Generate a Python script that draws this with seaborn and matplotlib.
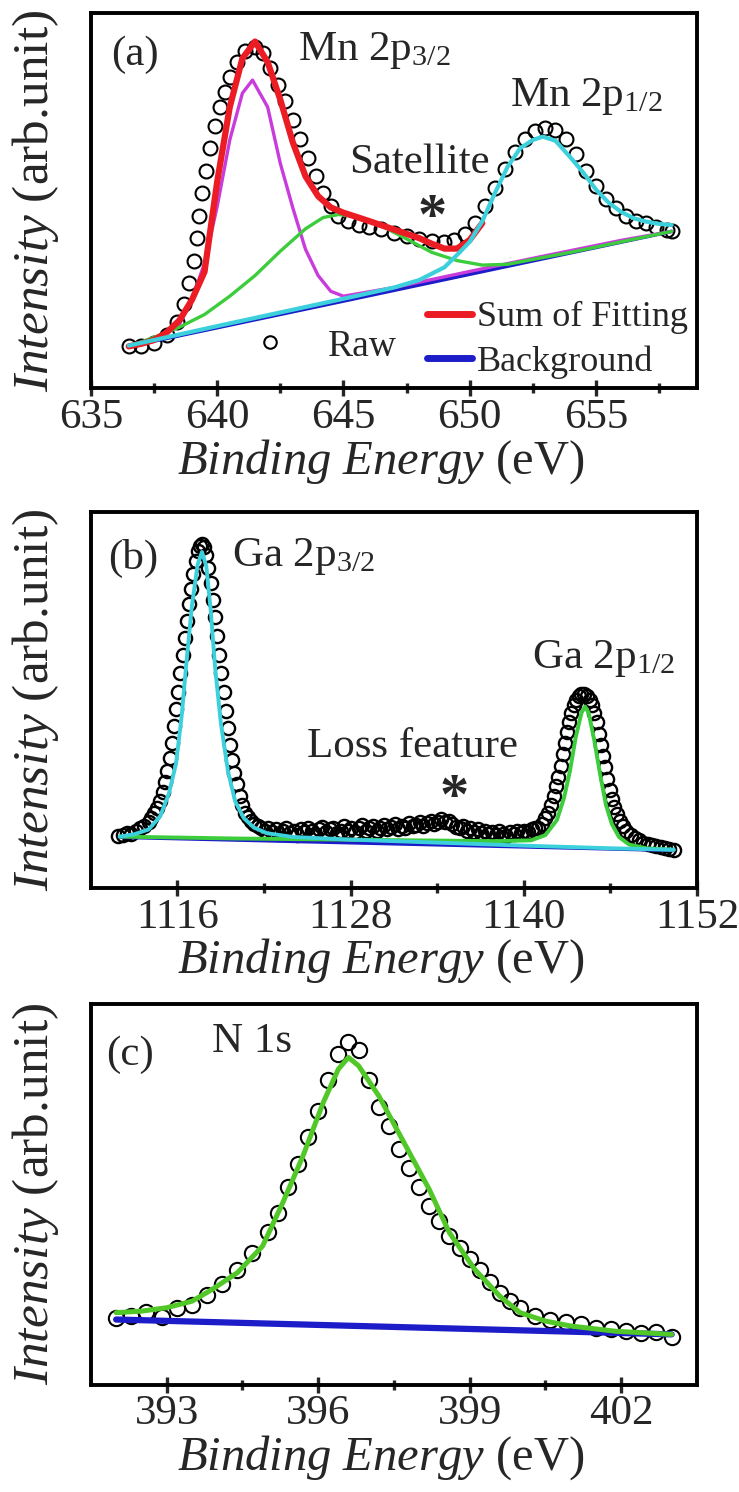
import numpy as np
import pandas as pd
import matplotlib
matplotlib.use("Agg")
import matplotlib.pyplot as plt
from matplotlib.lines import Line2D
import seaborn as sns

# ---------------- panel (a) : Mn 2p ----------------
a_raw_e = [636.5, 637.0, 637.5, 638.0, 638.4, 638.7, 638.9, 639.1, 639.2, 639.3, 639.4, 639.55,
           639.7, 639.9, 640.1, 640.3, 640.5, 640.8, 641.1, 641.5, 641.8, 642.1, 642.4, 642.7,
           643.0, 643.3, 643.6, 643.9, 644.2, 644.5, 644.8, 645.2, 645.6, 646.0, 646.5, 647.0,
           647.5, 648.0, 648.5, 649.0, 649.4, 649.8, 650.2, 650.6, 651.0, 651.4, 651.8, 652.2,
           652.6, 653.0, 653.4, 653.8, 654.2, 654.6, 655.0, 655.4, 655.8, 656.2, 656.6, 657.0,
           657.4, 657.8, 658.0]
a_raw_i = [0.111, 0.113, 0.12, 0.14, 0.175, 0.225, 0.28, 0.34, 0.40, 0.46, 0.52, 0.58,
           0.64, 0.70, 0.75, 0.79, 0.83, 0.87, 0.90, 0.91, 0.895, 0.855, 0.81, 0.765,
           0.715, 0.665, 0.615, 0.565, 0.52, 0.485, 0.46, 0.445, 0.435, 0.43, 0.425, 0.415,
           0.405, 0.398, 0.392, 0.39, 0.395, 0.41, 0.44, 0.485, 0.535, 0.585, 0.63, 0.665,
           0.685, 0.695, 0.69, 0.665, 0.625, 0.58, 0.54, 0.505, 0.48, 0.46, 0.447, 0.44,
           0.43, 0.422, 0.418]

a_sum_e = [636.5, 637.0, 637.5, 638.0, 638.5, 639.0, 639.5, 640.0, 640.5, 641.0, 641.5, 642.0,
           642.5, 643.0, 643.5, 644.0, 644.5, 645.0, 646.0, 647.0, 648.0, 648.5, 649.0, 649.5,
           650.0, 650.5]
a_sum_i = [0.111, 0.118, 0.128, 0.148, 0.18, 0.235, 0.31, 0.55, 0.75, 0.88, 0.925, 0.87,
           0.77, 0.655, 0.565, 0.512, 0.482, 0.468, 0.446, 0.423, 0.40, 0.385, 0.372, 0.372,
           0.395, 0.44]

a_p32_e = [636.5, 637.5, 638.5, 639.0, 639.5, 640.0, 640.5, 641.0, 641.4, 642.0, 642.5, 643.0,
           643.5, 644.0, 644.5, 645.0, 647.0, 650.0, 653.0, 656.0, 658.0]
a_p32_i = [0.111, 0.124, 0.169, 0.236, 0.333, 0.484, 0.662, 0.787, 0.822, 0.75, 0.60, 0.48,
           0.37, 0.30, 0.258, 0.245, 0.268, 0.311, 0.353, 0.394, 0.418]

a_sat_e = [636.5, 637.5, 638.5, 639.5, 640.5, 641.5, 642.5, 643.5, 644.2, 644.8, 645.5, 646.5,
           647.5, 648.5, 649.5, 650.5, 651.5, 652.5, 654.0, 656.0, 658.0]
a_sat_i = [0.111, 0.135, 0.162, 0.196, 0.245, 0.30, 0.365, 0.425, 0.455, 0.463, 0.458, 0.433,
           0.398, 0.362, 0.34, 0.328, 0.33, 0.343, 0.362, 0.39, 0.418]

a_p12_e = [636.5, 640.0, 645.0, 647.0, 648.0, 649.0, 649.5, 650.0, 650.5, 651.0, 651.5, 652.0,
           652.5, 652.9, 653.4, 654.0, 654.5, 655.0, 655.5, 656.0, 656.5, 657.0, 657.5, 658.0]
a_p12_i = [0.113, 0.165, 0.238, 0.268, 0.288, 0.322, 0.355, 0.39, 0.445, 0.52, 0.59, 0.64,
           0.662, 0.671, 0.66, 0.615, 0.575, 0.53, 0.495, 0.47, 0.453, 0.444, 0.438, 0.435]

a_bg_e = [636.5, 645.0, 658.0]
a_bg_i = [0.111, 0.232, 0.418]

# ---------------- panel (b) : Ga 2p ----------------
# raw points, read in three stretches: 2p3/2 peak, loss region, 2p1/2 peak
b_raw_e1 = [1111.9, 1112.2, 1112.5, 1112.8, 1113.1, 1113.4, 1113.7, 1114.0, 1114.2, 1114.4,
            1114.6, 1114.8, 1115.0, 1115.15, 1115.3, 1115.45, 1115.6, 1115.75, 1115.9, 1116.05,
            1116.2, 1116.35, 1116.5, 1116.65, 1116.8, 1116.95, 1117.1, 1117.25, 1117.4, 1117.55,
            1117.7, 1117.85, 1118.0, 1118.15, 1118.3, 1118.45, 1118.6, 1118.75, 1118.9, 1119.05,
            1119.2, 1119.35, 1119.5, 1119.65, 1119.8, 1119.95, 1120.1, 1120.3, 1120.5, 1120.7,
            1120.9, 1121.1, 1121.3]
b_raw_i1 = [0.137, 0.14, 0.146, 0.143, 0.15, 0.158, 0.165, 0.175, 0.185, 0.198,
            0.213, 0.232, 0.255, 0.28, 0.31, 0.345, 0.385, 0.43, 0.475, 0.52,
            0.57, 0.62, 0.665, 0.71, 0.755, 0.795, 0.835, 0.87, 0.895, 0.91,
            0.915, 0.905, 0.885, 0.85, 0.81, 0.765, 0.72, 0.67, 0.62, 0.57,
            0.52, 0.47, 0.425, 0.38, 0.34, 0.305, 0.275, 0.245, 0.22, 0.2,
            0.188, 0.178, 0.17]
b_raw_e2 = [1121.55, 1121.8, 1122.05, 1122.3, 1122.55, 1122.8, 1123.05, 1123.3, 1123.55, 1123.8,
            1124.05, 1124.3, 1124.55, 1124.8, 1125.05, 1125.3, 1125.55, 1125.8, 1126.05, 1126.3,
            1126.55, 1126.8, 1127.05, 1127.3, 1127.55, 1127.8, 1128.05, 1128.3, 1128.55, 1128.8,
            1129.05, 1129.3, 1129.55, 1129.8, 1130.05, 1130.3, 1130.55, 1130.8, 1131.05, 1131.3,
            1131.55, 1131.8, 1132.05, 1132.3, 1132.55, 1132.8, 1133.05, 1133.3, 1133.55, 1133.8,
            1134.05, 1134.3, 1134.55, 1134.8, 1135.05, 1135.3, 1135.55, 1135.8, 1136.05, 1136.3,
            1136.55, 1136.8, 1137.05, 1137.3, 1137.55, 1137.8, 1138.05, 1138.3, 1138.55, 1138.8,
            1139.05, 1139.3, 1139.55, 1139.8, 1140.05, 1140.3, 1140.55, 1140.8]
b_raw_i2 = [0.165, 0.158, 0.152, 0.16, 0.148, 0.155, 0.142, 0.15, 0.158, 0.145,
            0.152, 0.14, 0.155, 0.148, 0.16, 0.15, 0.143, 0.155, 0.162, 0.148,
            0.155, 0.16, 0.145, 0.152, 0.165, 0.15, 0.158, 0.147, 0.16, 0.166,
            0.152, 0.158, 0.163, 0.15, 0.16, 0.168, 0.155, 0.162, 0.17, 0.157,
            0.165, 0.16, 0.172, 0.163, 0.168, 0.175, 0.165, 0.172, 0.178, 0.17,
            0.176, 0.182, 0.175, 0.178, 0.17, 0.162, 0.158, 0.165, 0.152, 0.158,
            0.148, 0.155, 0.145, 0.152, 0.142, 0.148, 0.14, 0.15, 0.143, 0.138,
            0.147, 0.142, 0.15, 0.145, 0.152, 0.148, 0.156, 0.16]
b_raw_e3 = [1141.0, 1141.25, 1141.5, 1141.7, 1141.9, 1142.1, 1142.25, 1142.4, 1142.55, 1142.7,
            1142.85, 1143.0, 1143.15, 1143.3, 1143.45, 1143.6, 1143.8, 1144.0, 1144.2, 1144.4,
            1144.6, 1144.75, 1144.9, 1145.05, 1145.2, 1145.35, 1145.5, 1145.65, 1145.8, 1145.95,
            1146.1, 1146.25, 1146.45, 1146.65, 1146.85, 1147.1, 1147.4, 1147.7, 1148.0, 1148.3,
            1148.6, 1148.9, 1149.2, 1149.5, 1149.8, 1150.1, 1150.4]
b_raw_i3 = [0.16, 0.17, 0.185, 0.2, 0.22, 0.245, 0.27, 0.295, 0.325, 0.355,
            0.385, 0.415, 0.44, 0.465, 0.485, 0.5, 0.51, 0.515, 0.515, 0.51,
            0.5, 0.485, 0.465, 0.44, 0.41, 0.38, 0.35, 0.32, 0.29, 0.26,
            0.235, 0.215, 0.195, 0.178, 0.165, 0.152, 0.14, 0.132, 0.126, 0.12,
            0.117, 0.113, 0.11, 0.108, 0.106, 0.103, 0.101]

b_p32_e = [1112.0, 1113.0, 1114.0, 1114.8, 1115.4, 1115.9, 1116.3, 1116.6, 1117.0, 1117.4,
           1117.7, 1118.0, 1118.3, 1118.6, 1119.0, 1119.5, 1120.0, 1120.6, 1121.3, 1122.2,
           1124.0, 1128.0, 1134.0, 1140.0, 1146.0, 1150.4]
b_p32_i = [0.136, 0.142, 0.155, 0.19, 0.25, 0.33, 0.46, 0.59, 0.75, 0.86,
           0.893, 0.855, 0.74, 0.59, 0.44, 0.31, 0.23, 0.185, 0.16, 0.145,
           0.135, 0.128, 0.12, 0.112, 0.105, 0.101]

b_p12_e = [1112.0, 1120.0, 1130.0, 1138.0, 1140.5, 1141.5, 1142.3, 1142.8, 1143.2, 1143.6,
           1144.0, 1144.25, 1144.5, 1144.9, 1145.3, 1145.7, 1146.1, 1146.6, 1147.3, 1148.5,
           1150.4]
b_p12_i = [0.136, 0.131, 0.127, 0.124, 0.126, 0.14, 0.18, 0.24, 0.31, 0.40,
           0.465, 0.482, 0.465, 0.39, 0.30, 0.22, 0.17, 0.135, 0.115, 0.105,
           0.101]

b_bg_e = [1112.0, 1150.4]
b_bg_i = [0.134, 0.099]

# ---------------- panel (c) : N 1s ----------------
c_raw_e = [392.0, 392.3, 392.6, 392.9, 393.2, 393.5, 393.8, 394.1, 394.4, 394.7, 395.0, 395.2,
           395.4, 395.6, 395.8, 396.0, 396.2, 396.4, 396.6, 396.8, 397.0, 397.2, 397.4, 397.6,
           397.8, 398.0, 398.2, 398.4, 398.6, 398.8, 399.0, 399.2, 399.4, 399.6, 399.8, 400.0,
           400.3, 400.6, 400.9, 401.2, 401.5, 401.8, 402.1, 402.4, 402.7, 403.0]
c_raw_i = [0.175, 0.18, 0.19, 0.178, 0.2, 0.21, 0.235, 0.265, 0.30, 0.345, 0.40, 0.45,
           0.52, 0.58, 0.65, 0.72, 0.80, 0.87, 0.90, 0.88, 0.80, 0.73, 0.68, 0.62,
           0.57, 0.52, 0.47, 0.43, 0.39, 0.36, 0.33, 0.30, 0.27, 0.24, 0.22, 0.20,
           0.18, 0.17, 0.165, 0.16, 0.15, 0.145, 0.14, 0.135, 0.138, 0.125]

c_fit_e = [392.0, 392.5, 393.0, 393.5, 393.9, 394.4, 394.9, 395.3, 395.7, 396.1, 396.4, 396.6,
           396.8, 397.2, 397.7, 398.2, 398.6, 399.1, 399.6, 400.0, 400.5, 401.0, 401.9, 403.0]
c_fit_i = [0.189, 0.193, 0.202, 0.219, 0.25, 0.294, 0.364, 0.478, 0.601, 0.741, 0.829, 0.86,
           0.838, 0.759, 0.636, 0.513, 0.399, 0.303, 0.232, 0.189, 0.167, 0.154, 0.14, 0.132]

c_bg_e = [392.0, 403.0]
c_bg_i = [0.171, 0.132]

# tick labels
a_ticks = [635, 640, 645, 650, 655]
a_minor = [637.5, 642.5, 647.5, 652.5, 657.5]
b_ticks = [1116, 1128, 1140, 1152]
b_minor = [1122, 1134, 1146]
c_ticks = [393, 396, 399, 402]
c_minor = [394.5, 397.5, 400.5]

RED = "#ec1c24"
MAG = "#c83cdc"
GRN = "#3ccc3c"
CYN = "#3cd0dc"
BLU = "#1c1cc8"

sns.set_theme(style="ticks")
plt.rcParams["font.family"] = ["Liberation Serif", "DejaVu Serif"]
plt.rcParams["mathtext.fontset"] = "custom"
plt.rcParams["mathtext.rm"] = "Liberation Serif"
plt.rcParams["mathtext.it"] = "Liberation Serif:italic"
plt.rcParams["mathtext.bf"] = "Liberation Serif:bold"

fig = plt.figure(figsize=(7.39, 14.92), dpi=100)
ax_a = fig.add_axes([0.123, 0.740, 0.820, 0.251])
ax_b = fig.add_axes([0.123, 0.405, 0.820, 0.252])
ax_c = fig.add_axes([0.123, 0.072, 0.820, 0.255])


def raw(ax, e, i, ms, mew=1.5):
    sns.lineplot(x=e, y=i, ax=ax, estimator=None, sort=False, linestyle="",
                 marker="o", markersize=ms, markerfacecolor="none",
                 markeredgecolor="black", markeredgewidth=mew, color="black")


def line(ax, e, i, c, lw):
    sns.lineplot(x=e, y=i, ax=ax, estimator=None, sort=False, color=c,
                 linewidth=lw, solid_capstyle="round")


def style(ax, lim, ticks, minor):
    ax.set_xlim(*lim)
    ax.set_ylim(0, 1)
    ax.set_yticks([])
    ax.set_xticks(ticks)
    ax.set_xticks(minor, minor=True)
    ax.set_xticklabels([str(t) for t in ticks])
    ax.tick_params(axis="x", which="major", direction="inout", length=11, width=2.4,
                   labelsize=31, pad=2)
    ax.tick_params(axis="x", which="minor", direction="inout", length=7, width=2.4)
    for s in ax.spines.values():
        s.set_linewidth(2.8)
        s.set_color("black")
    ax.set_xlabel(r"$\it{Binding\ Energy}$ (eV)", fontsize=35, labelpad=0, x=0.478)
    ax.set_ylabel(r"$\it{Intensity}$ (arb.unit)", fontsize=37)
    ax.yaxis.set_label_coords(-0.05, 0.5)


# ---- (a)
raw(ax_a, a_raw_e, a_raw_i, 10)
line(ax_a, a_bg_e, a_bg_i, BLU, 2.6)
line(ax_a, a_p32_e, a_p32_i, MAG, 2.4)
line(ax_a, a_sat_e, a_sat_i, GRN, 2.4)
line(ax_a, a_sum_e, a_sum_i, RED, 4.5)
line(ax_a, a_p12_e, a_p12_i, CYN, 3.0)
style(ax_a, (635, 659), a_ticks, a_minor)
ax_a.text(635.8, 0.89, "(a)", fontsize=31, va="center")
ax_a.text(643.2, 0.9, r"Mn 2p$_{3/2}$", fontsize=31, va="center")
ax_a.text(651.6, 0.778, r"Mn 2p$_{1/2}$", fontsize=31, va="center")
ax_a.text(648.0, 0.6, "Satellite", fontsize=31, ha="center", va="center")
ax_a.text(648.5, 0.45, "*", fontsize=42, fontweight="bold", ha="center", va="center")

raw_h = Line2D([], [], linestyle="", marker="o", markersize=9, markerfacecolor="none",
               markeredgecolor="black", markeredgewidth=1.5)
leg_raw = ax_a.legend([raw_h], ["Raw"], loc="lower left", bbox_to_anchor=(0.237, 0.065),
                      frameon=False, fontsize=27, handlelength=1.9, handletextpad=0.6,
                      borderpad=0, borderaxespad=0)
ax_a.add_artist(leg_raw)
fit_h = [Line2D([], [], color=RED, linewidth=5, solid_capstyle="round"),
         Line2D([], [], color=BLU, linewidth=5, solid_capstyle="round")]
ax_a.legend(fit_h, ["Sum of Fitting", "Background"], loc="lower left",
            bbox_to_anchor=(0.555, 0.025), frameon=False, fontsize=26, handlelength=1.25,
            handletextpad=0.12, labelspacing=0.3, borderpad=0, borderaxespad=0)

# ---- (b)
raw(ax_b, b_raw_e1 + b_raw_e2 + b_raw_e3, b_raw_i1 + b_raw_i2 + b_raw_i3, 9.5, 1.7)
line(ax_b, b_bg_e, b_bg_i, BLU, 2.4)
line(ax_b, b_p12_e, b_p12_i, GRN, 2.8)
line(ax_b, b_p32_e, b_p32_i, CYN, 2.8)
style(ax_b, (1110, 1152), b_ticks, b_minor)
ax_b.text(1111.2, 0.875, "(b)", fontsize=31, va="center")
ax_b.text(1119.8, 0.88, r"Ga 2p$_{3/2}$", fontsize=31, va="center")
ax_b.text(1140.6, 0.61, r"Ga 2p$_{1/2}$", fontsize=31, va="center")
ax_b.text(1132.3, 0.376, "Loss feature", fontsize=31, ha="center", va="center")
ax_b.text(1135.2, 0.235, "*", fontsize=42, fontweight="bold", ha="center", va="center")

# ---- (c)
raw(ax_c, c_raw_e, c_raw_i, 11)
line(ax_c, c_bg_e, c_bg_i, BLU, 4.5)
line(ax_c, c_fit_e, c_fit_i, "#52c828", 3.6)
style(ax_c, (391.5, 403.5), c_ticks, c_minor)
ax_c.text(391.8, 0.868, "(c)", fontsize=31, va="center")
ax_c.text(393.9, 0.9, "N 1s", fontsize=31, va="center")

fig.savefig("out.png", dpi=100, facecolor="white")
